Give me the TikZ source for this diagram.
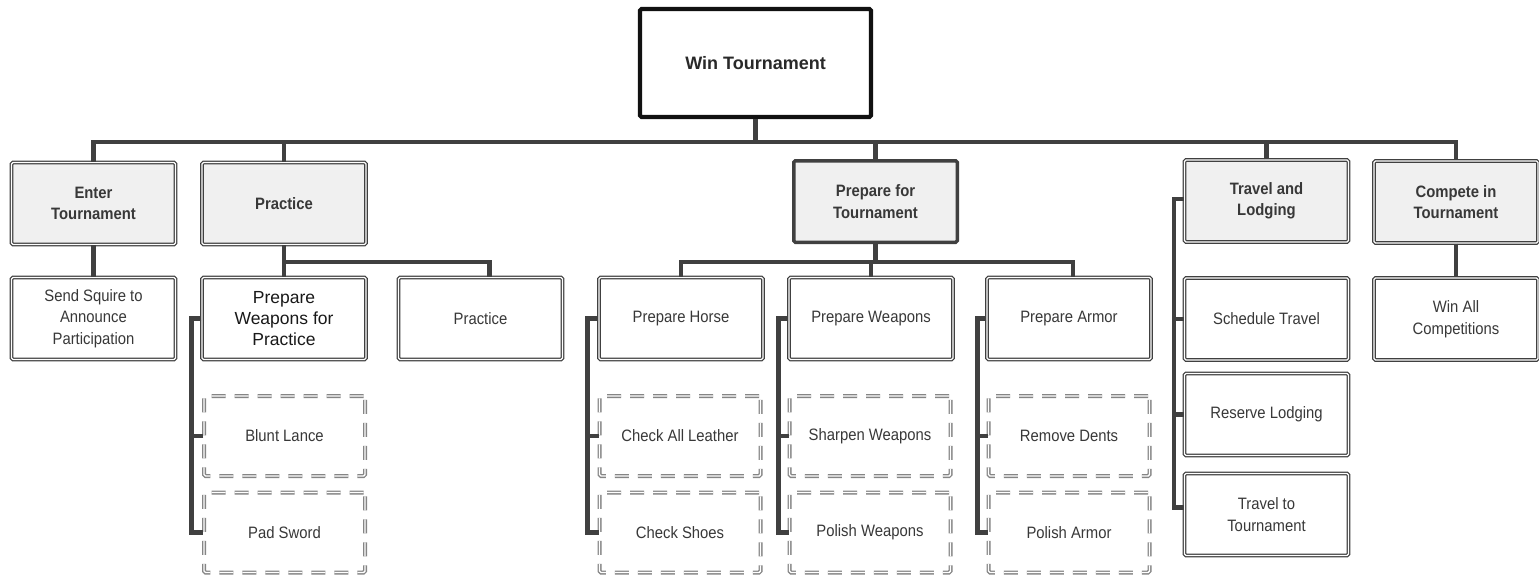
\documentclass[tikz,border=0pt]{standalone}
\usepackage{fontspec}
\setmainfont{Liberation Sans}
\newfontfamily\condfont[FakeStretch=0.9]{Liberation Sans}
\definecolor{lineGray}{HTML}{404040}
\definecolor{textGray}{HTML}{383838}
\definecolor{fillGray}{HTML}{F0F0F0}
\definecolor{dashGray}{HTML}{858585}
\definecolor{rootBlack}{HTML}{111111}
\tikzset{
  box/.style={rectangle, rounded corners=1.5pt, draw=lineGray, double=white,
    line width=1.2pt, double distance=1.2pt, minimum width=164, minimum height=82,
    inner sep=0pt, align=center, text=textGray, fill=white,
    font=\condfont\fontsize{16.5}{21.5}\selectfont},
  topbox/.style={box, fill=fillGray, font=\condfont\bfseries\fontsize{16.5}{21}\selectfont},
  keybox/.style={rectangle, rounded corners=1.5pt, draw=lineGray, line width=3.5pt,
    minimum width=163.5, minimum height=81.5, inner sep=0pt, align=center,
    text=textGray, fill=fillGray, font=\condfont\bfseries\fontsize{16.5}{21.5}\selectfont},
  rootbox/.style={rectangle, rounded corners=1.5pt, draw=rootBlack, line width=4.2pt,
    minimum width=231, minimum height=108, inner sep=0pt, align=center,
    text=rootBlack!90!white, fill=white, font=\bfseries\fontsize{18}{22}\selectfont},
  dbox/.style={box, draw=dashGray, dash pattern=on 14pt off 9pt, line width=1.3pt,
    double distance=1.4pt, minimum width=161, minimum height=80},
  connector/.style={draw=lineGray, line width=4.2pt},
}
\begin{document}
\begin{tikzpicture}[x=1pt,y=1pt]
\useasboundingbox (0,0) rectangle (1539,-576);

% root
\node[rootbox] (root) at (755.5,-63) {Win Tournament};

% level 1
\node[topbox] (enter) at (93.5,-203.5) {Enter\\Tournament};
\node[topbox] (practice) at (284,-203.5) {Practice};
\node[keybox] (pft) at (875.5,-201.5) {Prepare for\\Tournament};
\node[topbox] (tl) at (1266.5,-201) {Travel and\\Lodging};
\node[topbox] (compete) at (1456,-202) {Compete in\\Tournament};

% level 2
\node[box] (send) at (93.5,-318.5) {Send Squire to\\Announce\\Participation};
\node[box, text=black!90, font=\fontsize{17.5}{21}\selectfont] (pwp) at (284,-318.5) {Prepare\\Weapons for\\Practice};
\node[box] (prac2) at (480.5,-318.5) {Practice};
\node[box] (horse) at (681,-318.5) {Prepare Horse};
\node[box] (pw) at (871,-318.5) {Prepare Weapons};
\node[box] (pa) at (1069,-318.5) {Prepare Armor};
\node[box] (sched) at (1266.5,-319) {Schedule Travel};
\node[box] (winall) at (1456,-319) {Win All\\Competitions};
\node[box] (reserve) at (1266.5,-414.5) {Reserve Lodging};
\node[box] (travelto) at (1266.5,-514.5) {Travel to\\Tournament};

% dashed tasks
\node[dbox] (blunt) at (284.5,-436) {Blunt Lance};
\node[dbox] (pad) at (284.5,-532.5) {Pad Sword};
\node[dbox] (leather) at (680,-436) {Check All Leather};
\node[dbox] (shoes) at (680,-532.5) {Check Shoes};
\node[dbox] (sharpen) at (870,-436) {Sharpen Weapons};
\node[dbox] (polishw) at (870,-532.5) {Polish Weapons};
\node[dbox] (dents) at (1069,-436) {Remove Dents};
\node[dbox] (polisha) at (1069,-532.5) {Polish Armor};

% bus levels
\coordinate (bus) at (0,-142);
\coordinate (mid) at (0,-262);

% connectors: root to level 1
\draw[connector] (root.south) -- (root.south |- bus);
\draw[connector] (enter.north) |- (compete.north |- bus) -- (compete.north);
\draw[connector] (practice.north) -- (practice.north |- bus);
\draw[connector] (pft.north) -- (pft.north |- bus);
\draw[connector] (tl.north) -- (tl.north |- bus);

% enter / compete
\draw[connector] (enter.south) -- (send.north);
\draw[connector] (compete.south) -- (winall.north);

% practice
\draw[connector] (practice.south) -- (pwp.north);
\draw[connector] (practice.south |- mid) -- ([xshift=9]prac2.north |- mid) -- ([xshift=9]prac2.north);

% prepare for tournament
\draw[connector] (pft.south) -- (pft.south |- mid);
\draw[connector] (horse.north) |- ([xshift=4]pa.north |- mid) -- ([xshift=4]pa.north);
\draw[connector] (pw.north |- mid) -- (pw.north);

% side connectors
\draw[connector] (pwp.west) -- ++(-10,0) coordinate (pwpL) |- (pad.west);
\draw[connector] (blunt.west) -- (blunt.west -| pwpL);
\draw[connector] (horse.west) -- ++(-11,0) coordinate (horseL) |- (shoes.west);
\draw[connector] (leather.west) -- (leather.west -| horseL);
\draw[connector] (pw.west) -- ++(-10,0) coordinate (pwL) |- (polishw.west);
\draw[connector] (sharpen.west) -- (sharpen.west -| pwL);
\draw[connector] (pa.west) -- ++(-9,0) coordinate (paL) |- (polisha.west);
\draw[connector] (dents.west) -- (dents.west -| paL);
\draw[connector] ([yshift=2]tl.west) -- ++(-10,0) coordinate (tlL) |- ([yshift=7]travelto.west);
\draw[connector] (sched.west) -- (sched.west -| tlL);
\draw[connector] (reserve.west) -- (reserve.west -| tlL);
\end{tikzpicture}
\end{document}
